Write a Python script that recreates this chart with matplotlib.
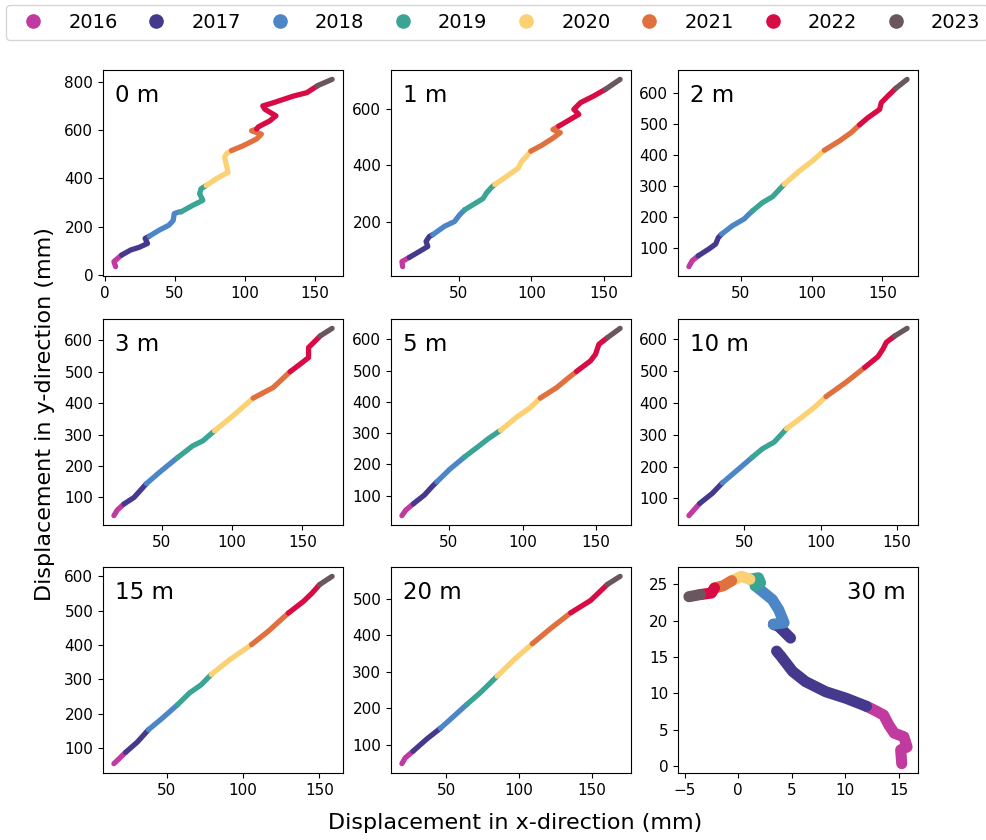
import numpy as np
import matplotlib
matplotlib.use("Agg")
import matplotlib.pyplot as plt
from matplotlib.lines import Line2D
from matplotlib.ticker import MultipleLocator

years = ["2016", "2017", "2018", "2019", "2020", "2021", "2022", "2023"]
year_colors = ["#C13AA0", "#45398E", "#4D86C7", "#3AA595", "#FBD173", "#E0713F", "#D80B44", "#6A565E"]

depth_labels = ["0 m", "1 m", "2 m", "3 m", "5 m", "10 m", "15 m", "20 m", "30 m"]

# waypoints of each yearly track: x (mm), y (mm), year index
d0_x = [7.9, 6.7, 12.2, 18.7, 24.7, 30.7, 29.0, 31.9, 39.0, 46.0, 49.0, 49.8, 53.4, 54.6, 63.0, 70.2, 67.9, 69.0, 72.6, 79.8, 88.2, 85.8, 87.0, 90.6, 99.0, 108.6, 112.0, 105.0, 108.6, 109.8, 118.0, 122.4, 114.5, 113.0, 120.5, 135.0, 144.5, 151.7, 152.9, 162.5]
d0_y = [34, 55, 82, 103, 114, 130, 151, 160, 185, 206, 225, 254, 261, 261, 288, 309, 336, 357, 370, 398, 425, 487, 501, 515, 535, 563, 583, 597, 604, 613, 638, 659, 686, 700, 713, 741, 755, 782, 786, 810]
d0_yr = [0, 0, 1, 1, 1, 1, 1, 2, 2, 2, 2, 2, 2, 3, 3, 3, 3, 3, 4, 4, 4, 4, 4, 5, 5, 5, 5, 5, 6, 6, 6, 6, 6, 6, 6, 6, 6, 7, 7, 7]

d1_x = [11.5, 11.0, 16.1, 23.0, 28.8, 27.6, 29.9, 32.2, 40.3, 47.2, 50.7, 54.2, 59.9, 66.8, 69.2, 72.6, 74.9, 83.0, 91.1, 93.4, 96.8, 99.6, 107.2, 115.3, 119.9, 114.8, 118.8, 125.7, 132.6, 129.2, 133.8, 143.0, 151.1, 161.0]
d1_y = [39, 57, 72, 93, 111, 129, 147, 153, 183, 200, 224, 242, 260, 282, 302, 322, 332, 361, 391, 415, 433, 451, 472, 499, 517, 528, 540, 561, 582, 600, 624, 648, 672, 707]
d1_yr = [0, 0, 1, 1, 1, 1, 1, 2, 2, 2, 2, 3, 3, 3, 3, 3, 4, 4, 4, 4, 4, 5, 5, 5, 5, 5, 6, 6, 6, 6, 6, 6, 7, 7]

d2_x = [13.4, 15.7, 20.0, 27.5, 32.3, 34.2, 36.5, 44.1, 52.4, 55.9, 58.3, 65.4, 72.5, 80.7, 91.4, 100.8, 109.1, 119.7, 128.0, 133.9, 139.8, 148.1, 149.3, 155.2, 159.5, 167.5]
d2_y = [40, 59, 75, 97, 113, 134, 145, 172, 194, 210, 220, 247, 266, 306, 349, 382, 416, 446, 473, 498, 521, 548, 570, 597, 616, 645]
d2_yr = [0, 0, 1, 1, 1, 1, 2, 2, 2, 2, 3, 3, 3, 4, 4, 4, 5, 5, 5, 6, 6, 6, 6, 6, 7, 7]

d3_x = [16.2, 18.6, 23.3, 30.5, 39.3, 48.3, 61.4, 72.1, 79.3, 87.6, 100.7, 115.0, 129.3, 141.2, 148.3, 154.3, 154.3, 157.9, 162.6, 171.0]
d3_y = [42, 60, 79, 100, 144, 179, 227, 264, 280, 312, 360, 416, 450, 500, 524, 545, 577, 593, 614, 638]
d3_yr = [0, 0, 1, 1, 2, 2, 3, 3, 3, 4, 4, 5, 5, 6, 6, 6, 6, 6, 7, 7]

d5_x = [18.1, 20.8, 25.9, 33.4, 38.6, 41.8, 50.5, 60.7, 71.0, 76.7, 85.1, 96.0, 105.1, 112.0, 123.3, 130.2, 136.6, 146.1, 149.5, 151.8, 157.5, 166.2]
d5_y = [36, 54, 74, 102, 129, 144, 184, 224, 261, 282, 309, 351, 381, 412, 446, 473, 497, 531, 552, 584, 605, 635]
d5_yr = [0, 0, 1, 1, 1, 2, 2, 3, 3, 3, 4, 4, 4, 5, 5, 5, 6, 6, 6, 6, 7, 7]

d10_x = [13.9, 17.2, 20.9, 29.2, 35.8, 45.6, 55.5, 62.0, 69.7, 77.8, 88.3, 96.0, 103.6, 116.7, 128.8, 137.5, 140.8, 143.0, 148.5, 156.6]
d10_y = [46, 64, 84, 116, 149, 189, 230, 256, 277, 319, 357, 386, 420, 465, 511, 545, 569, 590, 610, 634]
d10_yr = [0, 0, 1, 1, 2, 2, 3, 3, 3, 4, 4, 4, 5, 5, 6, 6, 6, 6, 7, 7]

d15_x = [15.2, 18.5, 22.9, 30.6, 37.9, 47.1, 57.0, 64.8, 72.5, 79.1, 91.2, 105.5, 116.5, 129.7, 139.6, 145.2, 150.2, 158.4]
d15_y = [54, 68, 87, 117, 153, 187, 226, 260, 284, 314, 357, 401, 440, 493, 527, 551, 576, 600]
d15_yr = [0, 0, 1, 1, 2, 2, 3, 3, 3, 4, 4, 5, 5, 6, 6, 6, 7, 7]

d20_x = [19.7, 22.0, 27.3, 36.9, 46.1, 55.3, 64.4, 73.6, 85.1, 96.6, 109.2, 121.8, 135.6, 149.3, 160.8, 169.5]
d20_y = [48, 64, 82, 116, 145, 178, 211, 243, 288, 333, 377, 419, 462, 496, 540, 562]
d20_yr = [0, 0, 1, 1, 2, 2, 3, 3, 4, 4, 5, 5, 6, 6, 7, 7]

d30_x = [15.3, 15.2, 15.8, 15.5, 14.6, 14.1, 13.6, 12.7, 12.0, 10.1, 8.2, 6.3, 5.1, 4.0, 3.6, np.nan, 4.9, 3.8, 3.3,
         4.3, 3.8, 3.2, 2.2, 1.6, 2.1, 1.9, 1.1, 0.3, -0.6, -1.4, -2.2, -2.5, -3.5, -4.6]
d30_y = [0.3, 2.2, 2.6, 4.0, 4.5, 5.6, 7.0, 7.7, 8.2, 9.3, 10.2, 11.6, 13.0, 15.1, 15.8, np.nan, 17.6, 19.2, 19.5,
         19.7, 21.5, 22.9, 24.1, 24.8, 25.2, 25.9, 25.7, 26.1, 25.5, 24.8, 24.5, 23.8, 23.6, 23.3]
d30_yr = [0, 0, 0, 0, 0, 0, 0, 0, 1, 1, 1, 1, 1, 1, 1, 1, 1, 1, 2,
          2, 2, 2, 2, 3, 3, 3, 4, 4, 5, 5, 6, 6, 7, 7]

tracks = [(d0_x, d0_y, d0_yr), (d1_x, d1_y, d1_yr), (d2_x, d2_y, d2_yr),
          (d3_x, d3_y, d3_yr), (d5_x, d5_y, d5_yr), (d10_x, d10_y, d10_yr),
          (d15_x, d15_y, d15_yr), (d20_x, d20_y, d20_yr), (d30_x, d30_y, d30_yr)]

y_steps = [200, 200, 100, 100, 100, 100, 100, 100, 5]
x_steps = [50, 50, 50, 50, 50, 50, 50, 50, 5]

W, H = 987, 840
fig = plt.figure(figsize=(W / 100, H / 100), dpi=100)

col_left = [103, 391, 678]
row_top = [70, 319, 567]
ax_w, ax_h = 240, 206

for i, (xs, ys, yr) in enumerate(tracks):
    r, c = divmod(i, 3)
    ax = fig.add_axes([col_left[c] / W, 1 - (row_top[r] + ax_h) / H, ax_w / W, ax_h / H])
    xs = np.asarray(xs, float)
    ys = np.asarray(ys, float)
    yr = np.asarray(yr)
    lw = 8 if i == 8 else 3.8
    for k in range(len(years)):
        idx = np.where(yr == k)[0]
        if len(idx) == 0:
            continue
        seg = list(idx)
        nxt = idx[-1] + 1
        if nxt < len(xs) and not np.isnan(xs[nxt]):
            seg.append(nxt)
        ax.plot(xs[seg], ys[seg], color=year_colors[k], lw=lw,
                solid_capstyle="round", solid_joinstyle="round")
    ax.xaxis.set_major_locator(MultipleLocator(x_steps[i]))
    ax.yaxis.set_major_locator(MultipleLocator(y_steps[i]))
    ax.tick_params(labelsize=11)
    if i == 8:
        ax.text(0.95, 0.93, depth_labels[i], transform=ax.transAxes,
                ha="right", va="top", fontsize=16.5)
    else:
        ax.text(0.05, 0.93, depth_labels[i], transform=ax.transAxes,
                ha="left", va="top", fontsize=16.5)

handles = [Line2D([], [], marker="o", linestyle="none", markersize=9.5,
                  markerfacecolor=col, markeredgecolor=col) for col in year_colors]
fig.legend(handles, years, loc="upper left", bbox_to_anchor=(6 / W, 1 - 5 / H),
           borderaxespad=0.0, ncol=8, fontsize=14, columnspacing=1.0,
           handletextpad=0.8, frameon=True)

fig.text(45 / W, 1 - 414 / H, "Displacement in y-direction (mm)", rotation=90,
         ha="center", va="center", fontsize=16)
fig.text(515 / W, 1 - 823 / H, "Displacement in x-direction (mm)",
         ha="center", va="center", fontsize=16)

fig.savefig("out.png", dpi=100)
